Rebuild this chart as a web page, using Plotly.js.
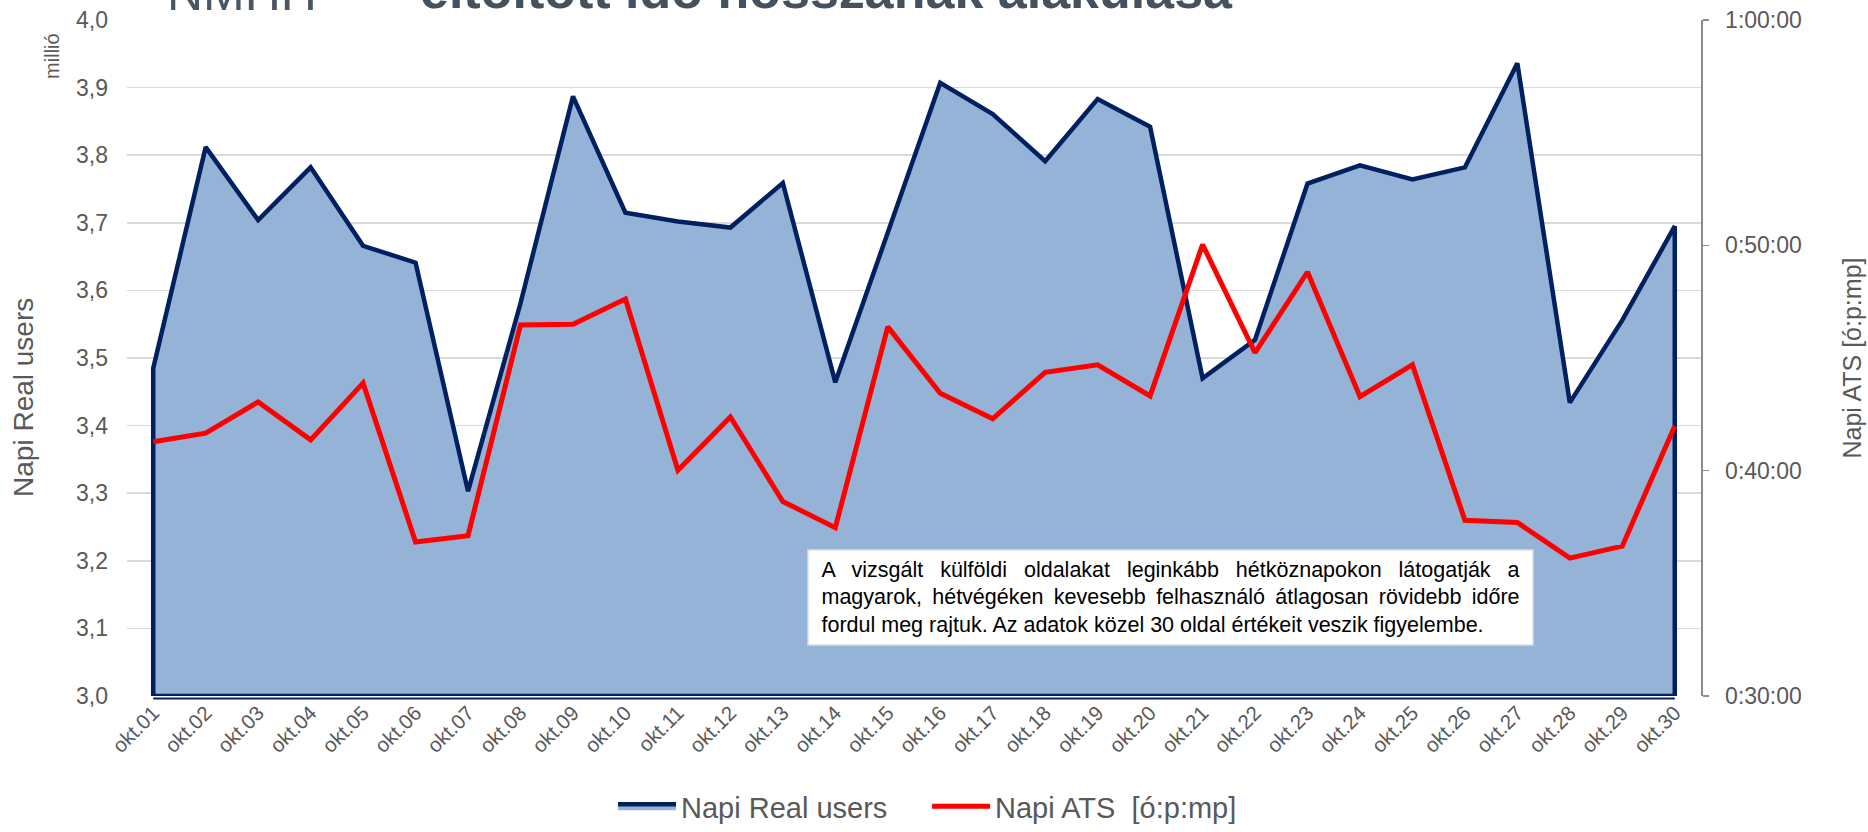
<!DOCTYPE html>
<html>
<head>
<meta charset="utf-8">
<script src="https://cdn.plot.ly/plotly-3.0.1.min.js"></script>
<style>
  html, body { margin: 0; padding: 0; background: #ffffff; }
  #chart { width: 1868px; height: 832px; }
</style>
</head>
<body>
<div id="chart"></div>
<script>
// ---- data ----
const days = ['okt.01','okt.02','okt.03','okt.04','okt.05','okt.06','okt.07','okt.08','okt.09','okt.10',
              'okt.11','okt.12','okt.13','okt.14','okt.15','okt.16','okt.17','okt.18','okt.19','okt.20',
              'okt.21','okt.22','okt.23','okt.24','okt.25','okt.26','okt.27','okt.28','okt.29','okt.30'];

// Napi Real users (millió)
const realUsers = [3.485, 3.812, 3.704, 3.782, 3.666, 3.641, 3.303, 3.581, 3.887, 3.715,
                   3.702, 3.693, 3.759, 3.464, 3.687, 3.907, 3.861, 3.791, 3.883, 3.842,
                   3.470, 3.527, 3.758, 3.785, 3.764, 3.782, 3.936, 3.434, 3.556, 3.695];

// Napi ATS [ó:p:mp]
const ats = ['0:41:17','0:41:40','0:43:03','0:41:22','0:43:53','0:36:50','0:37:07','0:46:28','0:46:30','0:47:37',
             '0:40:01','0:42:23','0:38:38','0:37:28','0:46:23','0:43:26','0:42:18','0:44:22','0:44:42','0:43:19',
             '0:50:02','0:45:14','0:48:49','0:43:17','0:44:42','0:37:48','0:37:42','0:36:07','0:36:39','0:41:59'];

const leftRange = [3.0, 4.0];
const rightTickLabels = ['0:30:00','0:40:00','0:50:00','1:00:00'];

const seriesNames = ['Napi Real users', 'Napi ATS  [ó:p:mp]'];
const leftTitle = 'Napi Real users';
const rightTitle = 'Napi ATS [ó:p:mp]';
const titleText = 'eltöltött idő hosszának alakulása';
const logoText = 'NMHH';
const unitText = 'millió';
const noteLines = [
  'A vizsgált külföldi oldalakat leginkább hétköznapokon látogatják a',
  'magyarok, hétvégéken kevesebb felhasználó átlagosan rövidebb időre',
  'fordul meg rajtuk. Az adatok közel 30 oldal értékeit veszik figyelembe.'
];

// ---- helpers ----
function toDate(t) {
  const p = t.split(':');
  const h = ('0' + p[0]).slice(-2);
  return '1970-01-01 ' + h + ':' + p[1] + ':' + p[2];
}
const atsDates = ats.map(toDate);
const rightTickVals = rightTickLabels.map(toDate);

const FONT = 'Arial, "Liberation Sans", sans-serif';
const GRAY = '#595959';
const NAVY = '#002060';

// closed polygon for the area (down to the axis minimum)
const areaX = [days[0]].concat(days, [days[days.length - 1], days[0]]);
const areaY = [leftRange[0]].concat(realUsers, [leftRange[0], leftRange[0]]);

const traces = [
  {
    type: 'scatter', mode: 'lines', name: seriesNames[0],
    x: areaX, y: areaY, xaxis: 'x', yaxis: 'y',
    fill: 'toself', fillcolor: '#95B3D7',
    line: { color: NAVY, width: 4.5 },
    hoverinfo: 'skip'
  },
  {
    type: 'scatter', mode: 'lines', name: seriesNames[1],
    x: days, y: atsDates, xaxis: 'x', yaxis: 'y2',
    line: { color: '#FF0000', width: 5 },
    hoverinfo: 'skip'
  }
];

const layout = {
  width: 1868, height: 832,
  margin: { l: 127, r: 167, t: 20, b: 136 },
  paper_bgcolor: '#ffffff', plot_bgcolor: '#ffffff',
  separators: ', ',
  font: { family: FONT, color: GRAY },
  showlegend: true,
  legend: {
    orientation: 'h', xref: 'paper', yref: 'container',
    x: 0.3088, xanchor: 'left', y: 0, yanchor: 'bottom',
    font: { family: FONT, size: 29, color: GRAY },
    itemwidth: 58, entrywidth: 241, entrywidthmode: 'pixels',
    bgcolor: 'rgba(0,0,0,0)'
  },
  xaxis: {
    type: 'category', categoryorder: 'array', categoryarray: days,
    range: [-0.5, days.length - 0.5], automargin: false,
    showgrid: false, zeroline: false, showline: false,
    ticks: '', tickangle: -45,
    tickfont: { family: FONT, size: 20.5, color: GRAY },
    fixedrange: true
  },
  yaxis: {
    range: leftRange, dtick: 0.1, tick0: 3.0, tickformat: '.1f', automargin: false,
    showgrid: true, gridcolor: '#d9d9d9', gridwidth: 1.5,
    zeroline: false, showline: false, ticks: '',
    ticklabelstandoff: 18,
    tickfont: { family: FONT, size: 23, color: GRAY },
    fixedrange: true
  },
  yaxis2: {
    type: 'date', overlaying: 'y', side: 'right', automargin: false,
    range: [rightTickVals[0], rightTickVals[rightTickVals.length - 1]],
    tickvals: rightTickVals, ticktext: rightTickLabels,
    showgrid: false, zeroline: false,
    showline: true, linecolor: '#8c8c8c', linewidth: 1.5,
    ticks: 'outside', ticklen: 6, tickcolor: '#8c8c8c', tickwidth: 1.5,
    ticklabelstandoff: 12,
    tickfont: { family: FONT, size: 23, color: GRAY },
    title: { text: rightTitle, font: { family: FONT, size: 25, color: GRAY }, standoff: 42 },
    fixedrange: true
  },
  shapes: [
    { type: 'line', xref: 'x', yref: 'paper', x0: days[0], x1: days[days.length - 1],
      y0: -0.0037, y1: -0.0037, line: { color: NAVY, width: 2 } }
  ],
  annotations: [
    { xref: 'paper', yref: 'paper', x: 0.1846, y: 1.045, xanchor: 'left', yanchor: 'middle',
      text: '<b>' + titleText + '</b>', showarrow: false,
      font: { family: FONT, size: 52, color: '#44525F' } },
    { xref: 'paper', yref: 'paper', x: 0.0241, y: 1.04, xanchor: 'left', yanchor: 'middle',
      text: logoText, showarrow: false,
      font: { family: FONT, size: 50, color: '#4A5663' } },
    { xref: 'paper', yref: 'paper', x: -0.0476, y: 0.947, xanchor: 'center', yanchor: 'middle',
      text: unitText, textangle: -90, showarrow: false,
      font: { family: FONT, size: 20, color: GRAY } },
    { xref: 'paper', yref: 'paper', x: -0.0654, y: 0.441, xanchor: 'center', yanchor: 'middle',
      text: leftTitle, textangle: -90, showarrow: false,
      font: { family: FONT, size: 28, color: GRAY } },
    { xref: 'paper', yref: 'paper', x: 0.663, y: 0.145, xanchor: 'center', yanchor: 'middle',
      text: noteLines.join('<br>'), showarrow: false, align: 'left', valign: 'middle',
      width: 714, height: 84, borderpad: 5,
      bgcolor: '#ffffff', bordercolor: '#d0d0d0', borderwidth: 1.5,
      font: { family: FONT, size: 21.5, color: '#000000' } }
  ]
};

Plotly.newPlot('chart', traces, layout, { displayModeBar: false, staticPlot: true }).then(function (gd) {
  // justify all but the last line of the note box and inset the text a little
  try {
    const TARGET = 698;
    const notes = gd.querySelectorAll('.annotation');
    const box = notes[notes.length - 1];
    const lines = box.querySelectorAll('tspan.line');
    for (let i = 0; i < lines.length; i++) {
      const t = lines[i];
      t.setAttribute('dx', '8');
      if (i === lines.length - 1) continue;
      const w = t.getComputedTextLength();
      const n = (t.textContent.match(/ /g) || []).length;
      if (n > 0) t.setAttribute('word-spacing', ((TARGET - w) / n).toFixed(2));
    }
  } catch (e) {}
});
</script>
</body>
</html>
